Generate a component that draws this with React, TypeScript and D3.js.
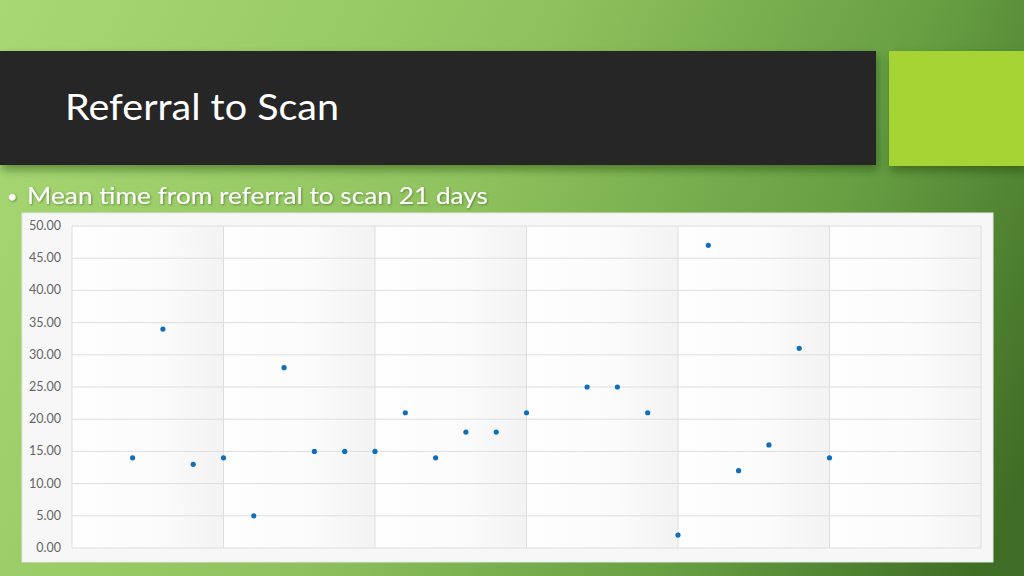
import * as d3 from "d3"
import { useEffect, useRef } from "react"

// Data
const xValues = [2, 3, 4, 5, 6, 7, 8, 9, 10, 11, 12, 13, 14, 15, 17, 18, 19, 20, 21, 22, 23, 24, 25]
const yValues = [14, 34, 13, 14, 5, 28, 15, 15, 15, 21, 14, 18, 18, 21, 25, 25, 21, 2, 47, 12, 16, 31, 14]
const yTicks = [0, 5, 10, 15, 20, 25, 30, 35, 40, 45, 50]
const xTicks = [0, 5, 10, 15, 20, 25, 30]

const titleText = "Referral to Scan"
const bulletText = "Mean time from referral to scan 21 days"

const W = 1024
const H = 576

const App = () => {
  const svgRef = useRef<SVGSVGElement | null>(null)

  useEffect(() => {
    if (!svgRef.current) return
    const svg = d3.select(svgRef.current)
    svg.selectAll("*").remove()

    const defs = svg.append("defs")

    // slide background gradient
    const bg = defs
      .append("linearGradient")
      .attr("id", "bg-grad")
      .attr("gradientUnits", "userSpaceOnUse")
      .attr("x1", 0)
      .attr("y1", 0)
      .attr("x2", 1024)
      .attr("y2", 480)
    bg.append("stop").attr("offset", "0%").attr("stop-color", "#a8d874")
    bg.append("stop").attr("offset", "45%").attr("stop-color", "#8fc25e")
    bg.append("stop").attr("offset", "75%").attr("stop-color", "#689f43")
    bg.append("stop").attr("offset", "100%").attr("stop-color", "#3e6d25")

    const shadow = defs
      .append("filter")
      .attr("id", "bar-shadow")
      .attr("x", "-5%")
      .attr("y", "-20%")
      .attr("width", "115%")
      .attr("height", "150%")
    shadow
      .append("feDropShadow")
      .attr("dx", 2)
      .attr("dy", 5)
      .attr("stdDeviation", 4)
      .attr("flood-color", "#1e3a10")
      .attr("flood-opacity", 0.45)

    const textShadow = defs.append("filter").attr("id", "text-shadow")
    textShadow
      .append("feDropShadow")
      .attr("dx", 1)
      .attr("dy", 1)
      .attr("stdDeviation", 1)
      .attr("flood-color", "#2a4a18")
      .attr("flood-opacity", 0.5)

    const band = defs
      .append("linearGradient")
      .attr("id", "band-grad")
      .attr("x1", "0%")
      .attr("y1", "0%")
      .attr("x2", "100%")
      .attr("y2", "0%")
    band.append("stop").attr("offset", "0%").attr("stop-color", "#fefefe")
    band.append("stop").attr("offset", "60%").attr("stop-color", "#fbfbfb")
    band.append("stop").attr("offset", "100%").attr("stop-color", "#f3f3f3")

    svg.append("rect").attr("width", W).attr("height", H).attr("fill", "url(#bg-grad)")

    // title bar + accent square
    svg
      .append("rect")
      .attr("x", 0)
      .attr("y", 51)
      .attr("width", 876)
      .attr("height", 114)
      .attr("fill", "#262626")
      .attr("filter", "url(#bar-shadow)")
    svg
      .append("rect")
      .attr("x", 889)
      .attr("y", 51)
      .attr("width", 135)
      .attr("height", 115)
      .attr("fill", "#a6d435")
      .attr("filter", "url(#bar-shadow)")

    svg
      .append("text")
      .attr("x", 65)
      .attr("y", 120)
      .attr("fill", "#ffffff")
      .style("font-family", "Lato, 'Open Sans', sans-serif")
      .style("font-size", "37px")
      .attr("textLength", 274)
      .attr("lengthAdjust", "spacingAndGlyphs")
      .text(titleText)

    // bullet line
    svg
      .append("text")
      .attr("x", 7)
      .attr("y", 203)
      .attr("fill", "#ffffff")
      .attr("filter", "url(#text-shadow)")
      .style("font-family", "Lato, 'Open Sans', sans-serif")
      .style("font-size", "18px")
      .text("•")
    svg
      .append("text")
      .attr("x", 27)
      .attr("y", 204)
      .attr("fill", "#ffffff")
      .attr("filter", "url(#text-shadow)")
      .style("font-family", "Lato, 'Open Sans', sans-serif")
      .style("font-size", "24px")
      .attr("textLength", 461)
      .attr("lengthAdjust", "spacingAndGlyphs")
      .text(bulletText)

    // chart container
    svg
      .append("rect")
      .attr("x", 22)
      .attr("y", 213)
      .attr("width", 971)
      .attr("height", 349)
      .attr("fill", "#f7f7f7")
      .attr("stroke", "#e6e6e6")

    const margin = { left: 72, top: 226, right: 981, bottom: 548 }
    const x = d3.scaleLinear().domain([0, 30]).range([margin.left, margin.right])
    const y = d3.scaleLinear().domain([0, 50]).range([margin.bottom, margin.top])

    const g = svg.append("g")

    // vertical bands
    g.selectAll(".band")
      .data(xTicks.slice(0, -1))
      .enter()
      .append("rect")
      .attr("x", d => x(d))
      .attr("y", y(50))
      .attr("width", d => x(d + 5) - x(d))
      .attr("height", y(0) - y(50))
      .attr("fill", "url(#band-grad)")

    // horizontal grid
    g.selectAll(".hgrid")
      .data(yTicks)
      .enter()
      .append("line")
      .attr("x1", x(0))
      .attr("x2", x(30))
      .attr("y1", d => y(d))
      .attr("y2", d => y(d))
      .attr("stroke", "#dedede")
      .attr("stroke-width", 1)

    // vertical grid
    g.selectAll(".vgrid")
      .data(xTicks)
      .enter()
      .append("line")
      .attr("x1", d => x(d))
      .attr("x2", d => x(d))
      .attr("y1", y(50))
      .attr("y2", y(0))
      .attr("stroke", "#dedede")
      .attr("stroke-width", 1)

    // y labels
    g.selectAll(".ylab")
      .data(yTicks)
      .enter()
      .append("text")
      .attr("x", 61)
      .attr("y", d => y(d) + 4)
      .attr("text-anchor", "end")
      .attr("fill", "#666666")
      .style("font-family", "Lato, 'Open Sans', sans-serif")
      .style("font-size", "12.5px")
      .text(d => d3.format(".2f")(d))

    // points
    const points = xValues.map((v, i) => ({ x: v, y: yValues[i] }))
    g.selectAll(".pt")
      .data(points)
      .enter()
      .append("circle")
      .attr("cx", d => x(d.x))
      .attr("cy", d => y(d.y))
      .attr("r", 2.6)
      .attr("fill", "#0f6fbd")
  }, [])

  return (
    <div style={{ position: "absolute", left: 0, top: 0, width: W, height: H }}>
      <svg ref={svgRef} width={W} height={H} style={{ display: "block" }} />
    </div>
  )
}

export default App
